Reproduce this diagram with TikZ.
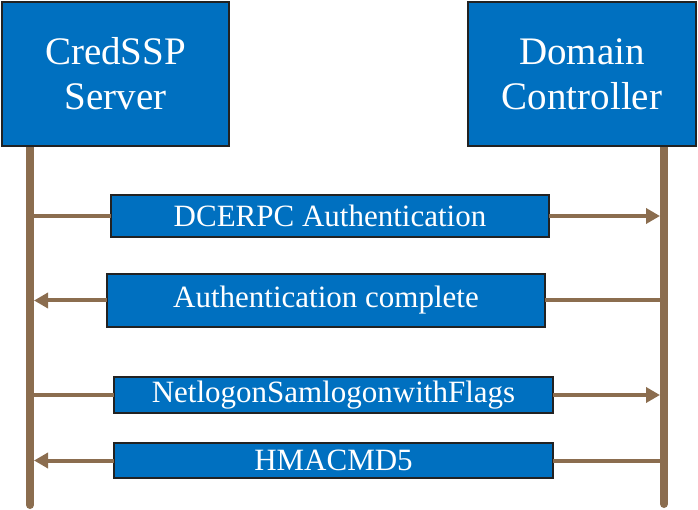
\documentclass[tikz,border=0pt]{standalone}
\usepackage{fontspec}
\setmainfont{Liberation Serif}
\usetikzlibrary{arrows.meta}

\definecolor{boxblue}{HTML}{0070C0}
\definecolor{boxedge}{HTML}{222222}
\definecolor{lifebrown}{HTML}{8B6D4F}

\tikzset{
    party/.style={rectangle, draw=boxedge, line width=2.5pt, fill=boxblue, text=white,
        align=center, inner sep=0pt, outer sep=0pt,
        font=\fontsize{39}{45}\selectfont},
    msgbox/.style={rectangle, draw=boxedge, line width=2.5pt, fill=boxblue, text=white,
        inner sep=0pt, outer sep=0pt, minimum width=438pt,
        font=\fontsize{31}{34}\selectfont},
    lifeline/.style={draw=lifebrown, line width=8pt, line cap=round},
    msgline/.style={draw=lifebrown, line width=4pt},
    msgarrow/.style={msgline, -{Triangle[length=14pt,width=15pt]}, shorten >=4pt}
}

\begin{document}
\begin{tikzpicture}[x=1pt, y=-1pt]
        \useasboundingbox (0,0) rectangle (698,510);

        % Lifelines
        \coordinate (sTop) at (30, 140);
        \coordinate (sBot) at (30, 505);
        \coordinate (dTop) at (664, 140);
        \coordinate (dBot) at (664, 504);
        \draw[lifeline] (sTop) -- (sBot);
        \draw[lifeline] (dTop) -- (dBot);

        % Parties
        \node[party, minimum width=227pt, minimum height=144pt] (server) at (115.5, 74) {CredSSP\\Server};
        \node[party, minimum width=228pt, minimum height=144pt] (dc) at (582, 74) {Domain\\Controller};

        % Messages
        \node[msgbox, minimum height=42pt] (auth) at (330, 216) {DCERPC Authentication};
        \node[msgbox, minimum height=53pt] (done) at (326, 300.5) {Authentication complete};
        \node[msgbox, minimum width=439pt, minimum height=36pt] (samlogon) at (333.5, 395) {NetlogonSamlogonwithFlags};
        \node[msgbox, minimum width=439pt, minimum height=35pt] (hmac) at (333.5, 460.5) {HMACMD5};

        % Arrows
        \draw[msgline] (auth.west -| sTop) -- (auth.west);
        \draw[msgarrow] (auth.east) -- (auth.east -| dTop);
        \draw[msgline] (done.east -| dTop) -- (done.east);
        \draw[msgarrow] (done.west) -- (done.west -| sTop);
        \draw[msgline] (samlogon.west -| sTop) -- (samlogon.west);
        \draw[msgarrow] (samlogon.east) -- (samlogon.east -| dTop);
        \draw[msgline] (hmac.east -| dTop) -- (hmac.east);
        \draw[msgarrow] (hmac.west) -- (hmac.west -| sTop);
\end{tikzpicture}
\end{document}
